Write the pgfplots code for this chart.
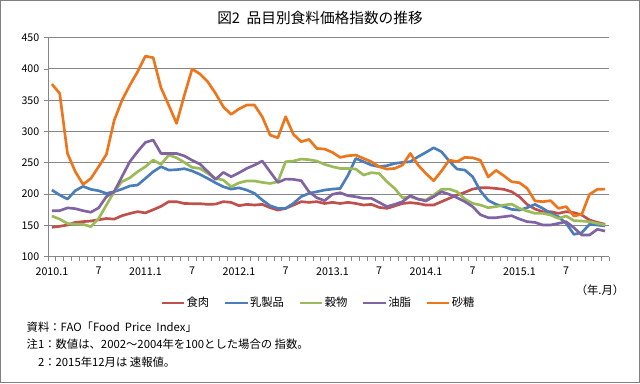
\documentclass[border=0pt]{standalone}
\usepackage{fontspec}
\setmainfont{Noto Sans CJK JP}
\usepackage{pgfplots}
\usepackage{pgfplotstable}
\pgfplotsset{compat=1.18}
\definecolor{cMeat}{RGB}{192,80,77}
\definecolor{cDairy}{RGB}{74,126,187}
\definecolor{cCereal}{RGB}{155,187,89}
\definecolor{cOil}{RGB}{128,100,162}
\definecolor{cSugar}{RGB}{236,118,28}
\definecolor{gridc}{RGB}{134,134,134}
\pgfplotstableread{
i meat dairy cereal oil sugar
0 147.0 206.5 165.0 173.5 375.8
1 148.5 198.5 160.0 173.5 361.0
2 150.6 192.0 153.0 178.0 265.0
3 154.8 205.4 152.0 176.7 236.0
4 156.0 212.4 151.6 173.5 215.5
5 157.0 207.6 148.0 171.0 225.0
6 159.0 205.4 161.0 178.0 243.8
7 161.0 201.0 182.5 196.0 263.5
8 160.0 204.0 204.0 204.0 318.0
9 165.5 208.0 220.0 228.0 350.0
10 169.0 213.0 226.0 251.8 374.0
11 172.0 214.5 235.8 268.0 395.5
12 170.0 225.0 243.8 282.6 420.5
13 175.0 235.8 254.4 286.4 418.0
14 180.4 243.8 247.5 265.0 370.0
15 187.9 238.4 262.4 265.0 342.0
16 187.9 239.0 258.0 265.0 313.0
17 185.0 240.6 250.7 261.0 358.0
18 184.7 237.0 242.7 254.0 400.0
19 184.7 231.5 241.0 248.0 392.0
20 183.6 225.0 233.0 236.0 379.6
21 184.0 218.0 225.0 223.5 361.0
22 187.9 211.8 222.5 234.7 339.6
23 186.8 208.0 211.8 227.8 327.4
24 181.5 210.0 218.0 234.0 336.0
25 183.6 206.5 221.0 241.0 342.3
26 182.5 201.2 221.0 246.4 342.3
27 183.6 190.5 218.7 252.8 323.6
28 178.3 181.5 217.0 235.8 294.4
29 174.5 177.2 219.8 218.7 290.0
30 177.2 177.2 251.8 224.0 323.6
31 182.5 185.2 252.8 223.5 295.4
32 187.9 196.0 256.0 221.4 283.7
33 186.8 201.2 255.0 203.8 287.4
34 187.9 203.8 252.8 194.2 273.0
35 185.0 206.5 247.5 189.5 272.0
36 186.8 208.0 243.8 199.6 266.7
37 185.0 209.0 241.0 202.2 258.7
38 186.8 230.0 241.0 197.4 261.3
39 185.0 257.0 240.0 195.8 262.4
40 182.5 251.8 230.5 193.2 257.0
41 183.6 246.4 234.2 193.2 251.8
42 178.8 243.8 233.0 186.8 243.8
43 177.2 245.4 219.8 180.0 240.0
44 181.0 249.0 209.0 183.6 241.0
45 185.0 250.7 194.2 187.9 246.4
46 186.3 251.8 195.8 197.4 265.0
47 185.0 259.7 192.0 192.0 246.4
48 182.5 266.7 190.5 189.0 233.0
49 182.5 274.0 198.5 195.8 221.4
50 187.9 267.7 207.6 203.8 236.8
51 193.2 252.8 208.0 199.6 254.4
52 198.5 240.0 203.8 194.2 251.8
53 202.8 238.4 192.0 187.9 258.7
54 208.0 227.8 185.2 180.0 258.0
55 210.2 205.0 182.5 167.0 254.0
56 210.2 190.0 178.3 162.3 227.3
57 209.0 183.6 180.0 162.3 238.0
58 207.6 180.0 182.5 163.9 229.4
59 203.8 175.6 184.0 165.5 219.8
60 195.8 174.5 177.2 160.2 218.2
61 183.6 178.3 173.0 155.9 209.2
62 176.1 183.6 169.2 154.8 189.0
63 171.9 177.2 169.2 150.6 187.9
64 171.9 169.2 166.6 150.6 189.5
65 169.2 163.9 161.2 153.2 177.2
66 171.9 153.2 165.0 155.9 180.0
67 170.3 135.7 157.5 146.3 165.0
68 166.6 138.3 157.0 134.6 167.6
69 158.6 151.7 155.9 134.6 199.6
70 154.8 150.6 153.2 143.7 207.6
71 151.7 149.0 150.6 141.0 208.0
}\data
\begin{document}
\begin{tikzpicture}
\fill[white] (0,0) rectangle (480pt,-287.25pt);
\draw[gray, line width=0.75pt] (0.375pt,-0.375pt) rectangle (479.625pt,-286.875pt);
\node[font=\fontsize{11}{13}\selectfont] at (240pt,-13.5pt) {図2\hspace{5pt}品目別食料価格指数の推移};
\begin{axis}[
  at={(36pt,-192.5pt)}, anchor=south west,
  scale only axis, width=420.75pt, height=164.25pt,
  xmin=-0.5, xmax=71.5, ymin=100, ymax=450,
  axis x line*=bottom, axis y line*=left,
  axis line style={gridc, line width=0.75pt},
  ytick={100,150,...,450},
  ymajorgrids, grid style={gridc, line width=0.75pt},
  xtick={0,6,...,66},
  xticklabels={2010.1,7,2011.1,7,2012.1,7,2013.1,7,2014.1,7,2015.1,7},
  minor xtick={-0.5,0.5,...,71.5},
  major x tick style={draw=none},
  minor x tick style={gridc, line width=0.6pt},
  y tick style={gridc, line width=0.6pt},
  tick align=outside,
  major tick length=3pt, minor tick length=3pt,
  ticklabel style={font=\fontsize{8}{9}\selectfont},
  xticklabel style={yshift=-1.5pt},
  /pgf/number format/assume math mode=true,
  legend style={at={(0.481,-0.211)}, anchor=center, draw=none, fill=none,
    font=\fontsize{8.5}{10}\selectfont, legend columns=-1,
    nodes={inner xsep=0.8pt},
    /tikz/every even column/.append style={column sep=10pt}},
  legend image code/.code={\draw[#1, line width=2pt] (0pt,0pt) -- (17pt,0pt);},
  every axis plot/.append style={line width=2pt, line join=round},
]
\addplot[cMeat] table[x=i,y=meat]{\data};
\addplot[cDairy] table[x=i,y=dairy]{\data};
\addplot[cCereal] table[x=i,y=cereal]{\data};
\addplot[cOil] table[x=i,y=oil]{\data};
\addplot[cSugar] table[x=i,y=sugar]{\data};
\legend{食肉,乳製品,穀物,油脂,砂糖}
\end{axis}
\node[font=\fontsize{8.5}{10}\selectfont] at (450pt,-217.5pt) {（年.月）};
\node[anchor=west, font=\fontsize{8.5}{10}\selectfont] at (16.5pt,-245.25pt) {資料：FAO「Food\ \ Price\ \ Index」};
\node[anchor=west, font=\fontsize{8.5}{10}\selectfont] at (16.5pt,-258.4pt) {注1：数値は、2002～2004年を100とした場合の 指数。};
\node[anchor=west, font=\fontsize{8.5}{10}\selectfont] at (16.5pt,-271.5pt) {　2：2015年12月は 速報値。};
\end{tikzpicture}
\end{document}
